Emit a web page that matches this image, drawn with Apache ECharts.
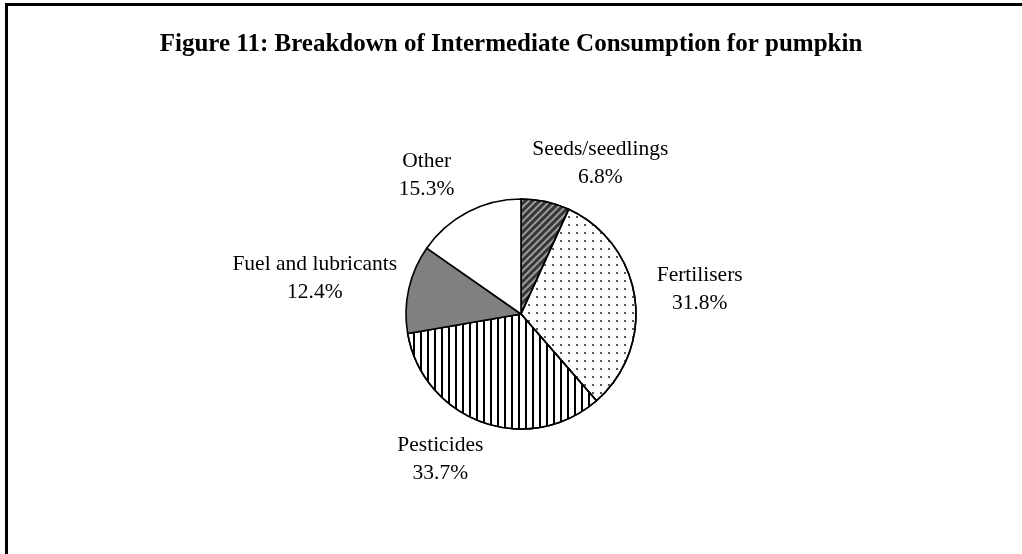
<!DOCTYPE html>
<html>
<head>
<meta charset="utf-8">
<script src="https://cdn.jsdelivr.net/npm/echarts@6/dist/echarts.min.js"></script>
<style>
  html, body { margin: 0; padding: 0; background: #fff; }
  #chart { width: 1022px; height: 554px; }
</style>
</head>
<body>
<div id="chart"></div>
<script>
  // data
  const categories = ['Seeds/seedlings', 'Fertilisers', 'Pesticides', 'Fuel and lubricants', 'Other'];
  const shares = [6.8, 31.8, 33.7, 12.4, 15.3];

  // fill patterns, one per slice (excel style hatching)
  const sliceStyles = [
    { color: '#363636', decal: { symbol: 'rect', color: '#9c9c9c', dashArrayX: [1, 0], dashArrayY: [1.6, 2.6], rotation: -Math.PI / 4 } },
    { color: '#ffffff', decal: { symbol: 'rect', color: '#555555', symbolSize: 1, dashArrayX: [1.5, 5.6], dashArrayY: [1.5, 5.6] } },
    { color: '#ffffff', decal: { symbol: 'rect', color: '#000000', symbolSize: 1, dashArrayX: [1.3, 4.7], dashArrayY: [1, 0] } },
    { color: '#808080' },
    { color: '#ffffff' }
  ];

  // extra shift of each label after the radial placement (excel puts them a bit off-axis)
  const labelNudge = {
    'Seeds/seedlings': [42, 21],
    'Fertilisers': [0, 1],
    'Pesticides': [-22, -19],
    'Fuel and lubricants': [9, 12],
    'Other': [-15, 14]
  };

  const CX = 521, CY = 314, R = 115, GAP = 19;
  const total = shares.reduce((a, b) => a + b, 0);

  function midAngle(idx) {
    let before = 0;
    for (let i = 0; i < idx; i++) before += shares[i];
    return (90 - 360 * (before + shares[idx] / 2) / total) * Math.PI / 180;
  }

  let chartDom = document.getElementById('chart');
  let myChart = echarts.init(chartDom);

  let option = {
    backgroundColor: '#fff',
    animation: false,
    title: {
      text: 'Figure 11: Breakdown of Intermediate Consumption for pumpkin',
      left: 'center',
      top: 27,
      textStyle: {
        fontFamily: 'Liberation Serif',
        fontWeight: 'bold',
        fontSize: 25,
        color: '#000'
      }
    },
    graphic: [
      // frame: only top and left edges are visible in the source
      { type: 'polyline', shape: { points: [[6.5, 554], [6.5, 4.5], [1022, 4.5]] }, style: { stroke: '#000', lineWidth: 3, fill: null } }
    ],
    series: [
      {
        type: 'pie',
        center: [CX, CY],
        radius: R,
        startAngle: 90,
        clockwise: true,
        label: {
          show: true,
          position: 'outside',
          formatter: '{b}\n{c}%',
          fontFamily: 'Liberation Serif',
          fontSize: 21.5,
          lineHeight: 28,
          color: '#000'
        },
        labelLine: { show: false },
        // place label boxes just outside the rim, along each slice's middle
        labelLayout: function (params) {
          const a = midAngle(params.dataIndex);
          const dx = Math.cos(a), dy = -Math.sin(a);
          const w = params.labelRect.width, h = params.labelRect.height;
          const d = R + GAP + Math.abs(dx) * w / 2 + Math.abs(dy) * h / 2;
          const n = labelNudge[categories[params.dataIndex]] || [0, 0];
          return {
            x: CX + dx * d + n[0],
            y: CY + dy * d + n[1],
            align: 'center',
            verticalAlign: 'middle'
          };
        },
        itemStyle: { borderColor: '#000', borderWidth: 1.6 },
        emphasis: { disabled: true },
        data: categories.map((name, i) => ({
          name: name,
          value: shares[i],
          itemStyle: sliceStyles[i]
        }))
      }
    ]
  };

  myChart.setOption(option);
  window.onresize = myChart.resize;
</script>
</body>
</html>
